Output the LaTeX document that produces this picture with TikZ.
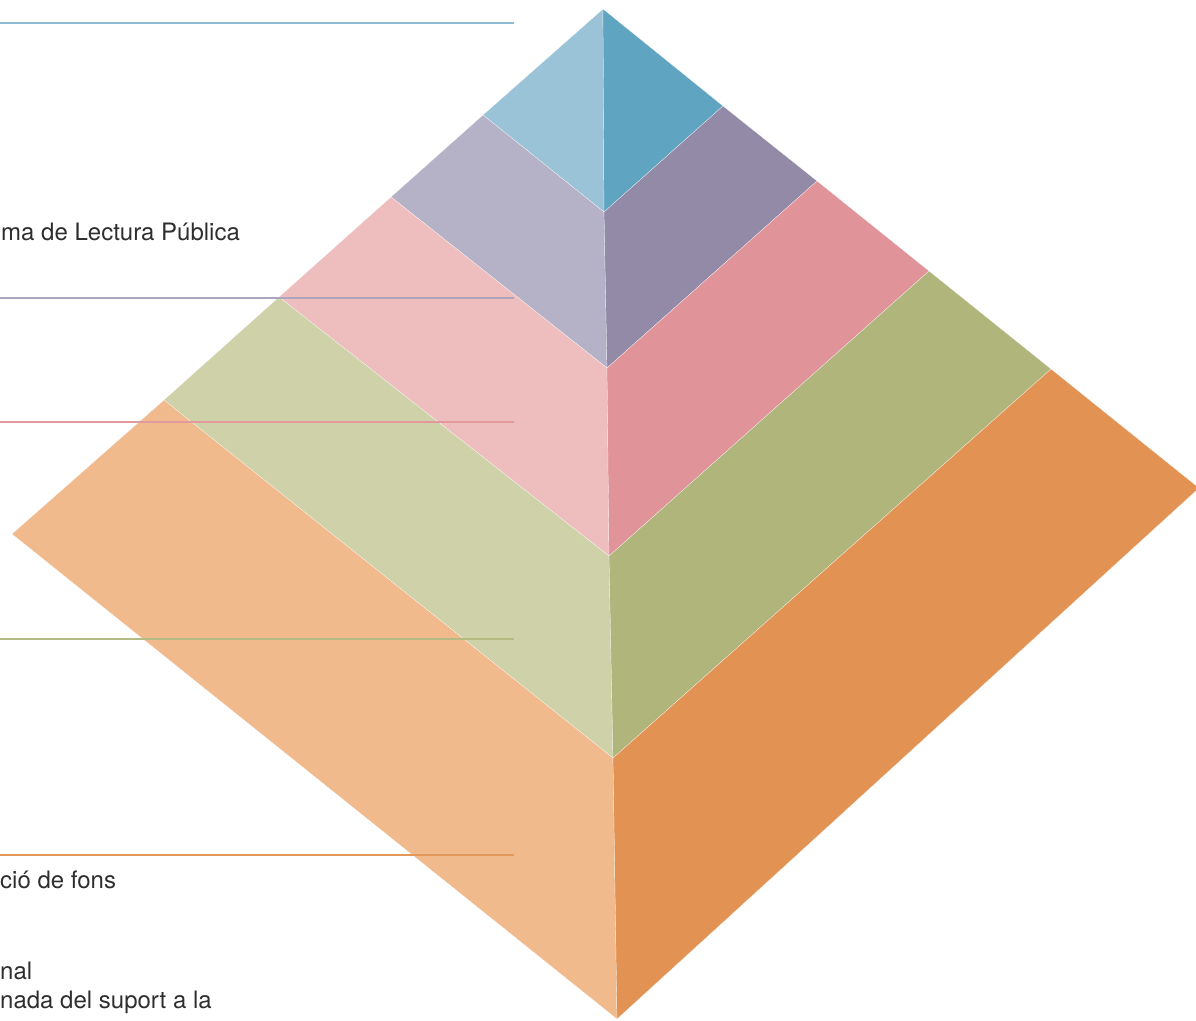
\documentclass[tikz,border=0pt]{standalone}
\usepackage{fontspec}
\setmainfont{TeX Gyre Heros}
\usepackage{tikz}
\usetikzlibrary{positioning}

\definecolor{blueL}{HTML}{9AC3D8}
\definecolor{blueR}{HTML}{5FA4C1}
\definecolor{lilaL}{HTML}{B5B2C8}
\definecolor{lilaR}{HTML}{938AA8}
\definecolor{rosaL}{HTML}{EEBDBE}
\definecolor{rosaR}{HTML}{E09398}
\definecolor{verdL}{HTML}{CFD2A9}
\definecolor{verdR}{HTML}{B0B57B}
\definecolor{tarL}{HTML}{F0BA8D}
\definecolor{tarR}{HTML}{E29353}
\definecolor{textgray}{HTML}{2E2E2E}

\begin{document}
\begin{tikzpicture}[
            x=1pt, y=-1pt,
            face/.style={draw=white!60!black!5, line width=0.2pt, line join=miter},
            guide/.style={line width=1.5pt},
            label/.style={anchor=base west, inner sep=0pt, text=textgray, font=\fontsize{24}{29}\selectfont, align=left}
        ]
            \clip (0,0) rectangle (1196,1020);

            % vertices of the pyramid
            \coordinate (top) at (603,9);
            \coordinate (l1) at (483,115);   \coordinate (r1) at (723,106);  \coordinate (c1) at (604,212);
            \coordinate (l2) at (391,197);   \coordinate (r2) at (817,181);  \coordinate (c2) at (607,368);
            \coordinate (l3) at (279,297);   \coordinate (r3) at (929,271);  \coordinate (c3) at (609,556);
            \coordinate (l4) at (164,400);   \coordinate (r4) at (1051,369); \coordinate (c4) at (613,758);
            \coordinate (l5) at (12,534);    \coordinate (r5) at (1199,488); \coordinate (c5) at (617,1019);

            % layers
            \fill[face, fill=blueL] (top) -- (l1) -- (c1) -- cycle;
            \fill[face, fill=blueR] (top) -- (r1) -- (c1) -- cycle;
            \fill[face, fill=lilaL] (l1) -- (l2) -- (c2) -- (c1) -- cycle;
            \fill[face, fill=lilaR] (r1) -- (r2) -- (c2) -- (c1) -- cycle;
            \fill[face, fill=rosaL] (l2) -- (l3) -- (c3) -- (c2) -- cycle;
            \fill[face, fill=rosaR] (r2) -- (r3) -- (c3) -- (c2) -- cycle;
            \fill[face, fill=verdL] (l3) -- (l4) -- (c4) -- (c3) -- cycle;
            \fill[face, fill=verdR] (r3) -- (r4) -- (c4) -- (c3) -- cycle;
            \fill[face, fill=tarL] (l4) -- (l5) -- (c5) -- (c4) -- cycle;
            \fill[face, fill=tarR] (r4) -- (r5) -- (c5) -- (c4) -- cycle;

            % guide lines
            \coordinate (g1a) at (0,23);  \coordinate (g1b) at (514,23);
            \coordinate (g2a) at (0,298); \coordinate (g2b) at (514,298);
            \coordinate (g3a) at (0,422); \coordinate (g3b) at (514,422);
            \coordinate (g4a) at (0,639); \coordinate (g4b) at (514,639);
            \coordinate (g5a) at (0,855); \coordinate (g5b) at (514,855);
            \draw[guide, blueL!80!blueR] (g1a) -- (g1b);
            \draw[guide, lilaL!70!lilaR] (g2a) -- (g2b);
            \draw[guide, rosaR!85!rosaL] (g3a) -- (g3b);
            \draw[guide, verdR!85!verdL] (g4a) -- (g4b);
            \draw[guide, tarR!90!tarL] (g5a) -- (g5b);

            % texts
            \node[label] (t1) at (1,240) {ma de Lectura Pública};
            \node[label] (t2) at (0,888) {ció de fons};
            \node[label] (t3) at (0,1008) {nal\\nada del suport a la};
        \end{tikzpicture}
\end{document}
